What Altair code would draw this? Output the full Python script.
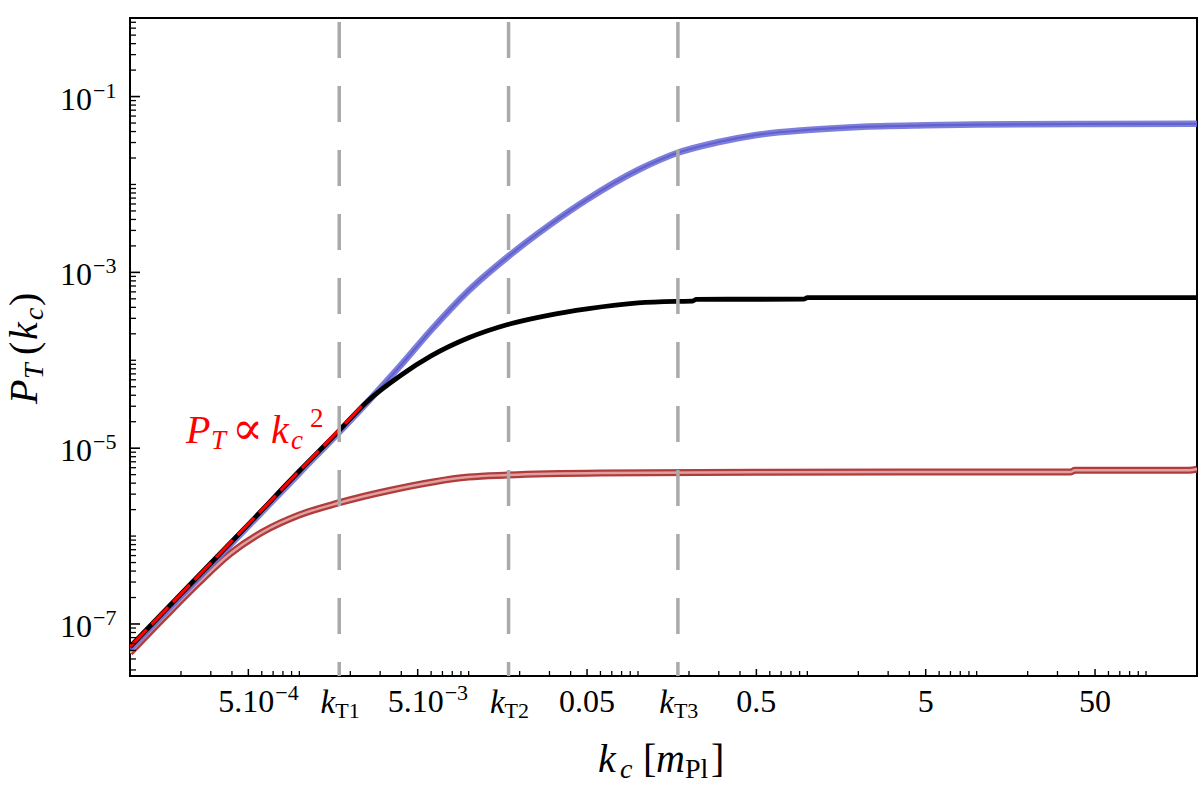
import altair as alt
import pandas as pd

# ---- data -----------------------------------------------------------------
# transition scales marked by the dashed verticals
k_T = [1.72e-3, 1.72e-2, 1.72e-1]
k_T_names = ["T1", "T2", "T3"]

# blue spectrum
k_blue = [1e-4, 2e-4, 5e-4, 1e-3, 1.7e-3, 2.5e-3, 4e-3, 6e-3, 1e-2, 1.7e-2, 3e-2,
          5e-2, 0.1, 0.17, 0.3, 0.5, 1.0, 2.0, 5.0, 10.0, 50.0, 200.0]
p_blue = [5.2e-8, 2.08e-7, 1.30e-6, 5.2e-6, 1.49e-5, 3.27e-5, 8.9e-5, 2.2e-4, 6.2e-4,
          1.5e-3, 3.45e-3, 6.75e-3, 1.46e-2, 2.28e-2, 3.04e-2, 3.66e-2, 4.17e-2,
          4.51e-2, 4.71e-2, 4.80e-2, 4.88e-2, 4.90e-2]

# black spectrum
k_black = [1e-4, 2e-4, 5e-4, 1e-3, 1.7e-3, 2.5e-3, 4e-3, 6e-3, 1e-2, 1.7e-2, 3e-2,
           5e-2, 0.1, 0.17, 0.21, 0.22, 0.95, 1.0, 200.0]
p_black = [5.5e-8, 2.2e-7, 1.36e-6, 5.5e-6, 1.55e-5, 3.36e-5, 6.8e-5, 1.12e-4, 1.80e-4,
           2.55e-4, 3.27e-4, 3.84e-4, 4.49e-4, 4.67e-4, 4.70e-4, 4.94e-4, 4.95e-4,
           5.15e-4, 5.17e-4]

# red spectrum
k_red = [1e-4, 1.6e-4, 2.5e-4, 3.9e-4, 6.1e-4, 1e-3, 1.7e-3, 3.4e-3, 1e-2, 1.7e-2,
         6e-2, 0.23, 3.5, 36.0, 38.0, 180.0, 200.0]
p_red = [4.7e-8, 1.2e-7, 2.85e-7, 6.3e-7, 1.12e-6, 1.74e-6, 2.38e-6, 3.3e-6, 4.70e-6,
         4.95e-6, 5.22e-6, 5.29e-6, 5.36e-6, 5.36e-6, 5.61e-6, 5.61e-6, 5.79e-6]

# P_T ~ k^2 reference line
k_fit = [1e-4, 2.5e-3]
p_fit = [5.5e-8, 3.44e-5]

# tick labels
x_sci_vals = [5e-4, 5e-3]
x_sci_exps = ["\u22124", "\u22123"]
x_plain_vals = [0.05, 0.5, 5.0, 50.0]
x_plain_text = ["0.05", "0.5", "5", "50"]
y_lab_vals = [1e-1, 1e-3, 1e-5, 1e-7]
y_lab_exps = ["\u22121", "\u22123", "\u22125", "\u22127"]

# annotation anchor (k, P)
note_k = [2.14e-4]
note_p = [1.15e-5]

# ---- layout ---------------------------------------------------------------
W, H = 1067, 658
FONT = "Liberation Serif"

xs = alt.Scale(type="log", domain=[1e-4, 200], nice=False)
ys = alt.Scale(type="log", domain=[2.56e-8, 0.783], nice=False)


def X():
    return alt.X("k:Q", scale=xs, axis=None)


def Y():
    return alt.Y("p:Q", scale=ys, axis=None)


def curve(k, p, interp="monotone", **mark):
    df = pd.DataFrame({"k": k, "p": p})
    return alt.Chart(df).mark_line(clip=True, interpolate=interp, **mark).encode(x=X(), y=Y())


layers = []

# spectra
layers.append(curve(k_red, p_red, color="#b03c3c", strokeWidth=7))
layers.append(curve(k_red, p_red, color="#e0a0a0", strokeWidth=2.4))
layers.append(curve(k_blue, p_blue, color="#12129a", strokeWidth=2.2))
layers.append(curve(k_blue, p_blue, color="#6c6cd6", strokeWidth=6.5, opacity=0.88))
layers.append(curve(k_black, p_black, color="#000000", strokeWidth=4.8))
layers.append(curve(k_fit, p_fit, interp="linear", color="#ff0000", strokeWidth=3.2,
                    strokeDash=[24, 7]))

# inward ticks
x_major = sorted(x_sci_vals + x_plain_vals + k_T)
x_minor = [m * 10.0 ** e for e in range(-4, 3) for m in range(1, 10)
           if m != 5 and 1e-4 <= m * 10.0 ** e <= 200]
y_minor = [m * 10.0 ** e for e in range(-8, 0) for m in range(1, 10)
           if 2.56e-8 <= m * 10.0 ** e <= 0.783 and not (m == 1 and e % 2 == 1)]

layers.append(alt.Chart(pd.DataFrame({"k": x_minor})).mark_rule(color="black", strokeWidth=1.3)
              .encode(x=X(), y=alt.value(H), y2=alt.value(H - 5)))
layers.append(alt.Chart(pd.DataFrame({"k": x_major})).mark_rule(color="black", strokeWidth=1.5)
              .encode(x=X(), y=alt.value(H), y2=alt.value(H - 7)))
layers.append(alt.Chart(pd.DataFrame({"p": y_minor})).mark_rule(color="black", strokeWidth=1.3)
              .encode(y=Y(), x=alt.value(0), x2=alt.value(6)))
layers.append(alt.Chart(pd.DataFrame({"p": y_lab_vals})).mark_rule(color="black", strokeWidth=1.6)
              .encode(y=Y(), x=alt.value(0), x2=alt.value(10)))

# dashed verticals at the transition scales
layers.append(alt.Chart(pd.DataFrame({"k": k_T})).mark_rule(
    color="#aaaaaa", strokeWidth=3.5, strokeDash=[36, 28], strokeDashOffset=60)
    .encode(x=X(), y=alt.value(0), y2=alt.value(H)))

# y tick labels: 10^n
ylab = pd.DataFrame({"p": y_lab_vals, "e": y_lab_exps})
layers.append(alt.Chart(ylab).mark_text(font=FONT, fontSize=32, align="right",
                                        baseline="alphabetic", dy=13)
              .encode(y=Y(), x=alt.value(-38), text=alt.value("10")))
layers.append(alt.Chart(ylab).mark_text(font=FONT, fontSize=22, align="left",
                                        baseline="alphabetic", dy=1)
              .encode(y=Y(), x=alt.value(-37), text="e:N"))

# x tick labels
xsci = pd.DataFrame({"k": x_sci_vals, "e": x_sci_exps})
layers.append(alt.Chart(xsci).mark_text(font=FONT, fontSize=32, align="right",
                                        baseline="alphabetic", dx=26)
              .encode(x=X(), y=alt.value(H + 36), text=alt.value("5.10")))
layers.append(alt.Chart(xsci).mark_text(font=FONT, fontSize=22, align="left",
                                        baseline="alphabetic", dx=27)
              .encode(x=X(), y=alt.value(H + 24), text="e:N"))
xpl = pd.DataFrame({"k": x_plain_vals, "t": x_plain_text})
layers.append(alt.Chart(xpl).mark_text(font=FONT, fontSize=32, align="center",
                                       baseline="alphabetic")
              .encode(x=X(), y=alt.value(H + 36), text="t:N"))
xkt = pd.DataFrame({"k": k_T, "t": k_T_names})
layers.append(alt.Chart(xkt).mark_text(font=FONT, fontSize=33, fontStyle="italic",
                                       align="right", baseline="alphabetic", dx=-4)
              .encode(x=X(), y=alt.value(H + 37), text=alt.value("k")))
layers.append(alt.Chart(xkt).mark_text(font=FONT, fontSize=22, align="left",
                                       baseline="alphabetic", dx=-4)
              .encode(x=X(), y=alt.value(H + 42), text="t:N"))


# axis titles, built from pieces so sub/superscripts sit right
def piece(text, x, y, size, italic=False, angle=0, font=FONT, color="black"):
    kw = dict(font=font, fontSize=size, align="left", baseline="alphabetic", color=color)
    if italic:
        kw["fontStyle"] = "italic"
    if angle:
        kw["angle"] = angle
    return alt.Chart(pd.DataFrame({"t": [text]})).mark_text(**kw).encode(
        x=alt.value(x), y=alt.value(y), text="t:N")


# x title: k_c [m_Pl]
layers += [
    piece("k", 468, 754, 40, italic=True),
    piece("c", 490, 760, 28, italic=True),
    piece("[", 513, 754, 40),
    piece("m", 526, 754, 40, italic=True),
    piece("Pl", 555, 760, 28),
    piece("]", 581, 754, 40),
]

# y title: P_T (k_c), reading upward
layers += [
    piece("P", -93, 386, 40, italic=True, angle=270),
    piece("T", -87, 361, 28, italic=True, angle=270),
    piece("(", -93, 337, 40, angle=270),
    piece("k", -93, 322, 40, italic=True, angle=270),
    piece("c", -87, 302, 28, italic=True, angle=270),
    piece(")", -93, 288, 40, angle=270),
]

# red annotation: P_T ∝ k_c^2
note = pd.DataFrame({"k": note_k, "p": note_p})


def note_piece(text, dx, dy, size, italic=True, font=FONT):
    kw = dict(font=font, fontSize=size, align="left", baseline="alphabetic",
              color="#ff0000", dx=dx, dy=dy)
    if italic:
        kw["fontStyle"] = "italic"
    return alt.Chart(note).mark_text(**kw).encode(x=X(), y=Y(), text=alt.value(text))


layers += [
    note_piece("P", 0, 0, 40),
    note_piece("T", 25, 6, 27),
    note_piece("\u221d", 46, 1, 46, italic=False, font="DejaVu Serif"),
    note_piece("k", 85, 0, 40),
    note_piece("c", 105, 6, 27),
    note_piece("2", 124, -16, 27, italic=False),
]

chart = alt.layer(*layers).properties(
    width=W,
    height=H,
    autosize=alt.AutoSizeParams(type="none"),
    padding={"left": 130, "top": 18, "right": 3, "bottom": 110},
).configure_view(stroke="black", strokeWidth=2)

chart.save("out.html", embed_options={"renderer": "svg", "actions": False})
